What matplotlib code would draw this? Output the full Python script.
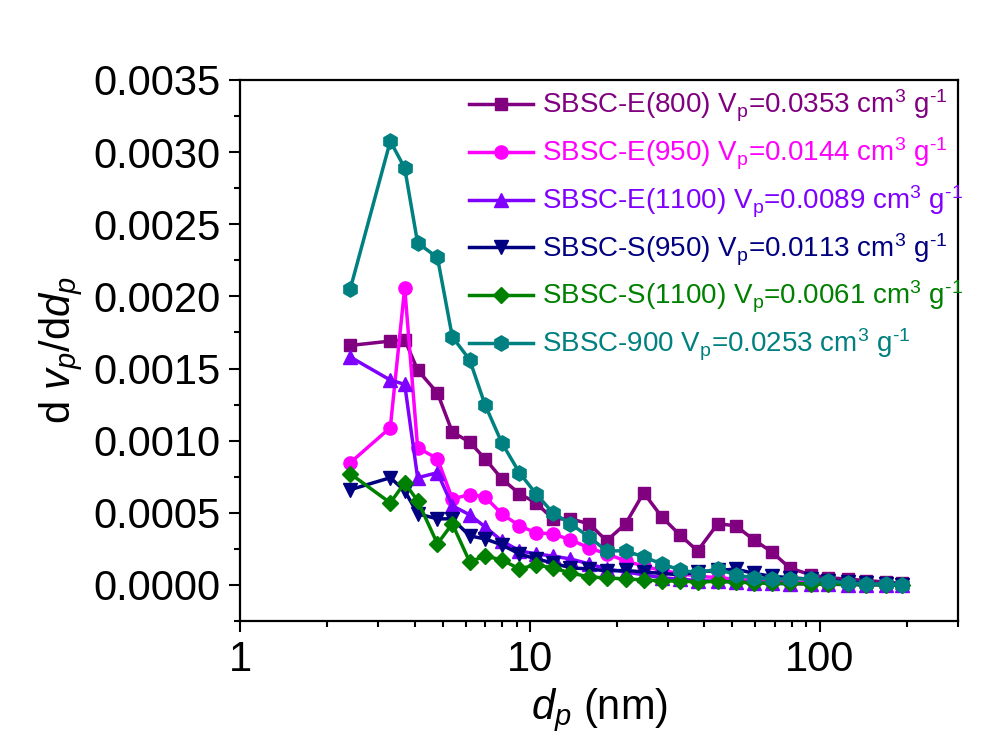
import matplotlib
matplotlib.use('Agg')
import matplotlib.pyplot as plt
import numpy as np
from matplotlib.ticker import MultipleLocator, FormatStrFormatter, LogLocator, NullFormatter

plt.rcParams['font.family'] = ['Liberation Sans', 'DejaVu Sans']
plt.rcParams['mathtext.fontset'] = 'custom'
plt.rcParams['mathtext.rm'] = 'Liberation Sans'
plt.rcParams['mathtext.it'] = 'Liberation Sans:italic'

# pore diameter (nm)
dp = [2.4, 3.3, 3.7, 4.1, 4.8, 5.4, 6.2, 7.0, 8.0, 9.2, 10.5, 12.0, 13.8, 16.0,
      18.4, 21.4, 24.7, 28.5, 32.9, 37.9, 44.5, 51.3, 59.2, 68.3, 78.8, 93,
      107, 125, 145, 169, 193]

e800 = [0.00166, 0.00169, 0.00170, 0.00149, 0.00133, 0.00106, 0.00099, 0.000875,
        0.000736, 0.000632, 0.000569, 0.000458, 0.000458, 0.000424, 0.000306,
        0.000424, 0.000639, 0.000472, 0.000347, 0.000236, 0.000424, 0.00041,
        0.000313, 0.000229, 0.000118, 0.00007, 0.00005, 0.00004, 0.00003,
        0.00002, 0.00001]
e950 = [0.000847, 0.00109, 0.00206, 0.000951, 0.000875, 0.000597, 0.000625,
        0.000611, 0.000493, 0.00041, 0.000361, 0.000354, 0.000313, 0.000257,
        0.000215, 0.000167, 0.00013, 0.0001, 0.00008, 0.00006, 0.00005,
        0.00004, 0.00003, 0.000025, 0.00002, 0.000015, 0.00001, 0.000008,
        0.000005, 0.000003, 0.0]
e1100 = [0.00158, 0.00142, 0.00139, 0.000743, 0.000778, 0.000549, 0.000486,
         0.000403, 0.000306, 0.000236, 0.000215, 0.0002, 0.00018, 0.000146,
         0.000111, 0.00009, 0.00007, 0.00005, 0.00004, 0.00003, 0.000025,
         0.00002, 0.000015, 0.00001, 0.000008, 0.000006, 0.000004, 0.000002,
         0.0, 0.0, 0.0]
s950 = [0.00066, 0.000743, 0.000653, 0.000493, 0.000458, 0.000458, 0.00034,
        0.000319, 0.000278, 0.000215, 0.00018, 0.000153, 0.000118, 0.000111,
        0.0000972, 0.0001, 0.00009, 0.00008, 0.00007, 0.00009, 0.0001,
        0.00011, 0.00008, 0.00006, 0.00005, 0.00004, 0.00003, 0.00002,
        0.00001, 0.000005, 0.0]
s1100 = [0.000771, 0.000569, 0.000708, 0.000583, 0.000285, 0.000424, 0.00016,
         0.0002, 0.000174, 0.000111, 0.000139, 0.000118, 0.0000833, 0.0000556,
         0.0000486, 0.0000417, 0.0000347, 0.0000278, 0.000028, 0.00002,
         0.000025, 0.00002, 0.000015, 0.000012, 0.00001, 0.000008, 0.000006,
         0.000004, 0.000002, 0.000001, 0.0]
c900 = [0.00205, 0.003076, 0.00289, 0.00237, 0.00227, 0.00172, 0.00156,
        0.00125, 0.000986, 0.000778, 0.000632, 0.0005, 0.000424, 0.000333,
        0.000236, 0.000236, 0.000194, 0.000146, 0.000104, 0.000083, 0.000111,
        0.0000694, 0.0000486, 0.0000417, 0.0000417, 0.0000417, 0.0000278,
        0.0000139, 0.000007, 0.000007, 0.0]

names = ['SBSC-E(800)', 'SBSC-E(950)', 'SBSC-E(1100)', 'SBSC-S(950)',
         'SBSC-S(1100)', 'SBSC-900']
vp = ['0.0353', '0.0144', '0.0089', '0.0113', '0.0061', '0.0253']
colors = ['#800080', '#FF00FF', '#8000FF', '#000080', '#008000', '#008080']
markers = ['s', 'o', '^', 'v', 'D', 'h']
msizes = [9, 9.5, 10, 10, 8.5, 11]

fig = plt.figure(figsize=(9.84, 7.56), dpi=100)
ax = fig.add_axes([0.2439, 0.1786, 0.7297, 0.7156])

series = [e800, e950, e1100, s950, s1100, c900]
for ys, n, v, c, m, ms in zip(series, names, vp, colors, markers, msizes):
    lab = n + r' V$_\mathregular{p}$=' + v + r' cm$^\mathregular{3}$ g$^{\text{-1}}$'
    ax.plot(dp, ys, color=c, marker=m, markersize=ms, linewidth=2.5,
            markeredgecolor=c, label=lab)

ax.set_xscale('log')
ax.set_xlim(1, 300)
ax.set_ylim(-0.00025, 0.0035)
ax.yaxis.set_major_locator(MultipleLocator(0.0005))
ax.yaxis.set_minor_locator(MultipleLocator(0.00025))
ax.yaxis.set_major_formatter(FormatStrFormatter('%.4f'))
ax.xaxis.set_minor_locator(LogLocator(base=10, subs=np.arange(2, 10), numticks=20))
ax.xaxis.set_minor_formatter(NullFormatter())
ax.set_xticks([1, 10, 100])
ax.set_xticklabels(['1', '10', '100'])

ax.tick_params(which='both', direction='out', top=False, right=False, width=1.5,
               labelsize=30)
ax.tick_params(which='major', length=8, pad=6)
ax.tick_params(which='minor', length=4.5)
for sp in ax.spines.values():
    sp.set_linewidth(1.6)

ax.set_xlabel(r'$d_p$ (nm)', fontsize=30, labelpad=4)
ax.set_ylabel(r'd $v_p$/d$d_p$', fontsize=30, labelpad=6)

leg = ax.legend(loc='upper left', bbox_to_anchor=(0.465, 0.898),
                bbox_transform=fig.transFigure, frameon=False, fontsize=20,
                numpoints=1, handlelength=2.3, handletextpad=0.35,
                labelspacing=0.42, borderaxespad=0)
for t, c in zip(leg.get_texts(), colors):
    t.set_color(c)

fig.savefig('out.png', dpi=100)
